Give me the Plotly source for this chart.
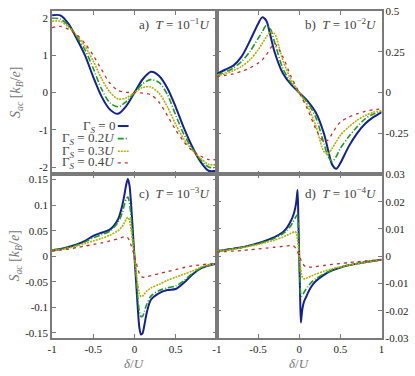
import plotly.graph_objects as go

# ---- data ----
GAMMA_LABELS = ["0", "0.2<i>U</i>", "0.3<i>U</i>", "0.4<i>U</i>"]

# a) T = 1e-1 U
XA = [-1, -0.9, -0.8, -0.7, -0.6, -0.5, -0.4, -0.3, -0.2, -0.1, 0,
      0.1, 0.2, 0.3, 0.4, 0.5, 0.6, 0.7, 0.8, 0.9, 1]
A_G0 = [2.08, 2.08, 1.85, 1.45, 1.0, 0.42, -0.1, -0.45, -0.57, -0.36, 0.0,
        0.36, 0.56, 0.45, 0.12, -0.38, -0.95, -1.45, -1.85, -2.1, -2.1]
A_G2 = [2.0, 1.98, 1.8, 1.5, 1.15, 0.65, 0.1, -0.27, -0.38, -0.24, 0.0,
        0.24, 0.35, 0.27, -0.05, -0.6, -1.12, -1.5, -1.8, -2.0, -2.02]
A_G3 = [1.92, 1.92, 1.76, 1.54, 1.25, 0.85, 0.38, 0.02, -0.17, -0.14, 0.0,
        0.14, 0.15, -0.02, -0.38, -0.85, -1.25, -1.54, -1.76, -1.93, -1.94]
A_G4 = [1.75, 1.78, 1.7, 1.56, 1.32, 1.0, 0.62, 0.26, 0.06, 0.01, 0.0,
        -0.01, -0.06, -0.26, -0.62, -1.0, -1.32, -1.56, -1.7, -1.8, -1.8]

# b) T = 1e-2 U
XB = [-1, -0.9, -0.8, -0.7, -0.6, -0.5, -0.45, -0.4, -0.35, -0.3, -0.2, -0.1, 0,
      0.1, 0.2, 0.3, 0.35, 0.4, 0.45, 0.5, 0.6, 0.7, 0.8, 0.9, 1]
B_G0 = [0.115, 0.14, 0.165, 0.22, 0.315, 0.42, 0.46, 0.44, 0.35, 0.25, 0.12, 0.05, 0.0,
        -0.05, -0.12, -0.25, -0.35, -0.44, -0.465, -0.43, -0.33, -0.25, -0.19, -0.15, -0.12]
B_G2 = [0.11, 0.125, 0.15, 0.19, 0.25, 0.33, 0.37, 0.41, 0.39, 0.31, 0.15, 0.06, 0.0,
        -0.06, -0.15, -0.31, -0.39, -0.42, -0.39, -0.34, -0.27, -0.21, -0.16, -0.13, -0.115]
B_G3 = [0.105, 0.115, 0.135, 0.16, 0.2, 0.26, 0.3, 0.34, 0.37, 0.36, 0.2, 0.08, 0.0,
        -0.08, -0.2, -0.36, -0.375, -0.34, -0.3, -0.26, -0.21, -0.17, -0.14, -0.12, -0.11]
B_G4 = [0.1, 0.105, 0.115, 0.13, 0.15, 0.18, 0.2, 0.23, 0.27, 0.3, 0.22, 0.1, 0.0,
        -0.1, -0.22, -0.3, -0.29, -0.25, -0.21, -0.18, -0.15, -0.13, -0.115, -0.105, -0.1]

# c) T = 1e-3 U
XC = [-1, -0.9, -0.8, -0.7, -0.6, -0.5, -0.4, -0.3, -0.2, -0.15, -0.12, -0.1,
      -0.08, -0.06, -0.04, -0.02, 0, 0.02, 0.04, 0.06, 0.08, 0.1, 0.12, 0.15,
      0.2, 0.3, 0.4, 0.5, 0.6, 0.7, 0.8, 0.9, 1]
C_G0 = [0.0115, 0.014, 0.018, 0.023, 0.03, 0.04, 0.046, 0.052, 0.072, 0.098, 0.122, 0.14,
        0.151, 0.138, 0.1, 0.05, 0.0, -0.05, -0.1, -0.14, -0.153, -0.15, -0.135, -0.11,
        -0.085, -0.072, -0.066, -0.064, -0.052, -0.036, -0.024, -0.018, -0.014]
C_G2 = [0.0115, 0.014, 0.017, 0.022, 0.028, 0.036, 0.042, 0.049, 0.066, 0.084, 0.102, 0.112,
        0.116, 0.104, 0.075, 0.038, 0.0, -0.04, -0.08, -0.108, -0.118, -0.117, -0.108, -0.094,
        -0.078, -0.067, -0.062, -0.058, -0.048, -0.034, -0.024, -0.018, -0.014]
C_G3 = [0.011, 0.013, 0.016, 0.02, 0.025, 0.03, 0.035, 0.041, 0.05, 0.058, 0.066, 0.072,
        0.076, 0.07, 0.05, 0.026, 0.0, -0.028, -0.055, -0.073, -0.079, -0.078, -0.074, -0.068,
        -0.062, -0.055, -0.047, -0.041, -0.035, -0.029, -0.022, -0.017, -0.014]
C_G4 = [0.01, 0.012, 0.014, 0.017, 0.02, 0.023, 0.026, 0.03, 0.034, 0.037, 0.038, 0.038,
        0.036, 0.03, 0.021, 0.011, 0.0, -0.012, -0.024, -0.034, -0.039, -0.041, -0.041, -0.04,
        -0.038, -0.034, -0.03, -0.026, -0.022, -0.019, -0.017, -0.015, -0.014]

# d) T = 1e-4 U
XD = [-1, -0.9, -0.8, -0.7, -0.6, -0.5, -0.4, -0.3, -0.2, -0.15, -0.1, -0.08, -0.06,
      -0.04, -0.03, -0.02, -0.01, 0, 0.01, 0.02, 0.03, 0.04, 0.06, 0.08, 0.1, 0.15,
      0.2, 0.3, 0.4, 0.5, 0.6, 0.7, 0.8, 0.9, 1]
D_G0 = [0.0019, 0.0023, 0.0028, 0.0033, 0.004, 0.0048, 0.0058, 0.007, 0.0088, 0.0104, 0.013,
        0.0144, 0.0162, 0.019, 0.0215, 0.0243, 0.013, 0.0, -0.013, -0.0243, -0.0215, -0.019,
        -0.0165, -0.0152, -0.0138, -0.011, -0.0092, -0.0068, -0.0052, -0.0041, -0.0033,
        -0.0027, -0.0022, -0.0017, -0.0013]
D_G2 = [0.0019, 0.0023, 0.0027, 0.0032, 0.0039, 0.0046, 0.0055, 0.0066, 0.0082, 0.0095, 0.0113,
        0.0123, 0.0134, 0.0145, 0.015, 0.0148, 0.009, 0.0, -0.009, -0.0142, -0.0146, -0.0142,
        -0.0132, -0.0122, -0.0113, -0.0095, -0.0083, -0.0064, -0.005, -0.0041, -0.0033,
        -0.0027, -0.0022, -0.0017, -0.0013]
D_G3 = [0.0018, 0.0022, 0.0026, 0.0031, 0.0037, 0.0043, 0.0051, 0.0059, 0.007, 0.0077, 0.0084,
        0.0087, 0.009, 0.0088, 0.0078, 0.006, 0.0032, 0.0, -0.0025, -0.005, -0.0067, -0.0077,
        -0.0083, -0.0082, -0.0079, -0.0072, -0.0066, -0.0055, -0.0046, -0.0039, -0.0032,
        -0.0027, -0.0022, -0.0017, -0.0013]
D_G4 = [0.0015, 0.0017, 0.0019, 0.0021, 0.0024, 0.0027, 0.003, 0.0033, 0.0036, 0.0038, 0.0039,
        0.0039, 0.0036, 0.0029, 0.0023, 0.0016, 0.0008, 0.0, -0.0006, -0.0013, -0.002, -0.0026,
        -0.0034, -0.0039, -0.004, -0.004, -0.0038, -0.0034, -0.003, -0.0027, -0.0023,
        -0.002, -0.0017, -0.0015, -0.0013]

X_TICKS = [-1, -0.5, 0, 0.5, 1]
X_TEXT_C = ["-1", "-0.5", "0", "0.5", ""]
X_TEXT_D = ["-1", "-0.5", "0", "0.5", "1"]
A_TICKS = [-2, -1, 0, 1, 2]
A_TEXT = ["-2", "-1", "0", "1", "2"]
B_TICKS = [-0.25, 0, 0.25, 0.5]
B_TEXT = ["-0.25", "0", "0.25", "0.5"]
C_TICKS = [-0.15, -0.1, -0.05, 0, 0.05, 0.1, 0.15]
C_TEXT = ["-0.15", "-0.1", "-0.05", "0", "0.05", "0.1", "0.15"]
D_TICKS = [-0.03, -0.02, -0.01, 0, 0.01, 0.02, 0.03]
D_TEXT = ["-0.03", "-0.02", "-0.01", "0", "0.01", "0.02", "0.03"]

PANELS = [
    ("a", "1", XA, [A_G0, A_G2, A_G3, A_G4]),
    ("b", "2", XB, [B_G0, B_G2, B_G3, B_G4]),
    ("c", "3", XC, [C_G0, C_G2, C_G3, C_G4]),
    ("d", "4", XD, [D_G0, D_G2, D_G3, D_G4]),
]

# ---- styling ----
W, H = 415, 376
FONT = "Liberation Serif, Times New Roman, Tinos, serif"
FRAME = "#7a7a7a"
STYLES = [
    dict(color="#14228f", width=2.0, dash="solid"),
    dict(color="#1f9a1f", width=1.6, dash="6px,2px,1px,2px"),
    dict(color="#b5ad00", width=1.6, dash="2px,1px"),
    dict(color="#b83232", width=1.3, dash="3px,4px"),
]


def px_x(p):
    return p / W


def px_y(p):
    return 1 - p / H


def axis_style(**kw):
    base = dict(
        showline=True, mirror="ticks", linecolor=FRAME, linewidth=1.5,
        ticks="inside", ticklen=4, tickcolor=FRAME, tickwidth=1,
        showgrid=False, zeroline=False,
        tickfont=dict(family=FONT, size=11, color="#222"),
    )
    base.update(kw)
    return base


fig = go.Figure()
for name, idx, xs, series in PANELS:
    suffix = "" if idx == "1" else idx
    for ys, st in zip(series, STYLES):
        fig.add_trace(go.Scatter(
            x=xs, y=ys, mode="lines",
            line=dict(shape="spline", smoothing=0.8, **st),
            xaxis="x" + suffix, yaxis="y" + suffix,
            showlegend=False, hoverinfo="skip",
        ))

left = [px_x(48), px_x(216)]
right = [px_x(216), px_x(384)]
top = [px_y(174), px_y(5)]
bottom = [px_y(343), px_y(174)]

fig.update_layout(
    width=W, height=H,
    margin=dict(l=0, r=0, t=0, b=0),
    plot_bgcolor="white", paper_bgcolor="white",
    font=dict(family=FONT, size=11, color="#222"),
    xaxis=axis_style(domain=left, range=[-1, 1], anchor="y",
                     tickvals=X_TICKS, showticklabels=False),
    yaxis=axis_style(domain=top, range=[-2.2, 2.2], anchor="x",
                     tickvals=A_TICKS, ticktext=A_TEXT),
    xaxis2=axis_style(domain=right, range=[-1, 1], anchor="y2",
                      tickvals=X_TICKS, showticklabels=False),
    yaxis2=axis_style(domain=top, range=[-0.5, 0.5], anchor="x2", side="right",
                      tickvals=B_TICKS, ticktext=B_TEXT),
    xaxis3=axis_style(domain=left, range=[-1, 1], anchor="y3",
                      tickvals=X_TICKS, ticktext=X_TEXT_C),
    yaxis3=axis_style(domain=bottom, range=[-0.16, 0.16], anchor="x3",
                      tickvals=C_TICKS, ticktext=C_TEXT),
    xaxis4=axis_style(domain=right, range=[-1, 1], anchor="y4",
                      tickvals=X_TICKS, ticktext=X_TEXT_D),
    yaxis4=axis_style(domain=bottom, range=[-0.03, 0.03], anchor="x4", side="right",
                      tickvals=D_TICKS, ticktext=D_TEXT),
)

# panel labels
labels = [
    ("a)", "1", 211, 19), ("b)", "2", 381, 19),
    ("c)", "3", 211, 193), ("d)", "4", 381, 193),
]
for tag, exp, xr, yc in labels:
    fig.add_annotation(
        x=px_x(xr), y=px_y(yc), xref="paper", yref="paper",
        xanchor="right", yanchor="middle", showarrow=False,
        text=f"{tag}  <i>T</i> = 10<sup>\u2212{exp}</sup><i>U</i>",
        font=dict(family=FONT, size=13, color="#444"),
    )

# axis titles
ytitle = "<i>S<sub>ac</sub></i> [<i>k<sub>B</sub></i>/<i>e</i>]"
for yc in (89, 258):
    fig.add_annotation(
        x=px_x(11), y=px_y(yc), xref="paper", yref="paper",
        xanchor="center", yanchor="middle",
        showarrow=False, textangle=-90, text=ytitle,
        font=dict(family=FONT, size=14, color="#777"),
    )
for xc in (132, 300):
    fig.add_annotation(
        x=px_x(xc), y=px_y(369), xref="paper", yref="paper",
        xanchor="center", yanchor="middle",
        showarrow=False, text="<i>\u03b4</i>/<i>U</i>",
        font=dict(family=FONT, size=13, color="#777"),
    )

# legend (text first, sample after, as in the original)
rows = [124, 137, 150, 162]
for lab, st, yr in zip(GAMMA_LABELS, STYLES, rows):
    fig.add_annotation(
        x=px_x(114), y=px_y(yr), xref="paper", yref="paper",
        xanchor="right", yanchor="middle", showarrow=False,
        text=f"\u0393<sub><i>S</i></sub> = {lab}",
        font=dict(family=FONT, size=13, color="#444"),
    )
    fig.add_shape(
        type="line", xref="paper", yref="paper",
        x0=px_x(115), x1=px_x(126), y0=px_y(yr), y1=px_y(yr),
        line=dict(color=st["color"], width=st["width"], dash=st["dash"]),
    )

fig.write_html(
    "out.html",
    config={"displayModeBar": False},
    post_script="document.body.style.margin='0';",
)
